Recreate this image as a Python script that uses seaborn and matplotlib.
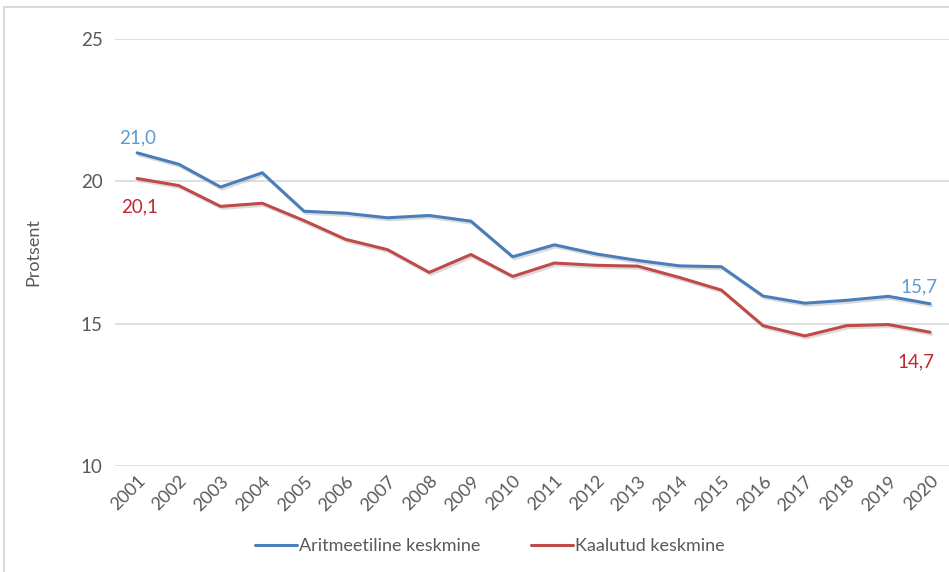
#!/usr/bin/env python3
import matplotlib
matplotlib.use('Agg')
import matplotlib.pyplot as plt
import matplotlib.patheffects as pe
from matplotlib.patches import Rectangle
import pandas as pd
import seaborn as sns

YEARS = list(range(2001, 2021))
ARITM = [21.0, 20.6, 19.8, 20.3, 18.95, 18.88, 18.72, 18.8, 18.6, 17.35,
         17.77, 17.45, 17.22, 17.03, 17.0, 15.97, 15.72, 15.82, 15.96, 15.7]
KAAL = [20.1, 19.85, 19.12, 19.23, 18.62, 17.96, 17.6, 16.8, 17.43, 16.66,
        17.13, 17.05, 17.02, 16.62, 16.18, 14.93, 14.57, 14.93, 14.97, 14.7]
SERIES = ['Aritmeetiline keskmine', 'Kaalutud keskmine']
Y_TICKS = [10, 15, 20, 25]

LINE_COLORS = ['#4A7EBB', '#BE4B48']
LABEL_COLORS = ['#5B9BD5', '#C0272D']
TEXT = '#595959'
GRID = '#D9D9D9'

sns.set_style('white')
plt.rcParams['font.family'] = ['Lato', 'DejaVu Sans']

df = pd.DataFrame({
    'year': YEARS * 2,
    'value': ARITM + KAAL,
    'series': [SERIES[0]] * len(YEARS) + [SERIES[1]] * len(YEARS),
})

fig = plt.figure(figsize=(9.49, 5.72), dpi=100)
fig.patches.append(Rectangle((4 / 949, -0.1), 1.2, (572 - 7) / 572 + 0.1,
                             transform=fig.transFigure, fill=False,
                             edgecolor=GRID, linewidth=1.5))
ax = fig.add_axes([115 / 949, (572 - 466) / 572, (949 - 115) / 949, (466 - 39) / 572])

sns.lineplot(data=df, x='year', y='value', hue='series', palette=LINE_COLORS,
             linewidth=2.2, ax=ax, legend=False)
for line in ax.get_lines():
    line.set_path_effects([pe.SimpleLineShadow(offset=(1.2, -1.5), shadow_color='#9a9a9a', alpha=0.35),
                           pe.Normal()])

ax.set_ylim(10, 25)
ax.set_xlim(2000.47, 2020.455)
ax.set_yticks(Y_TICKS)
ax.set_xticks(YEARS)
ax.set_xticklabels([str(y) for y in YEARS], rotation=45, ha='right',
                   rotation_mode='anchor', fontsize=13, color=TEXT)
ax.set_yticklabels([str(v) for v in Y_TICKS], fontsize=13.5, color=TEXT)
ax.tick_params(axis='both', length=0)
ax.tick_params(axis='y', pad=9)
ax.tick_params(axis='x', pad=5)
ax.grid(axis='y', color=GRID, linewidth=1.2)
ax.set_axisbelow(True)
for s in ax.spines.values():
    s.set_visible(False)
ax.set_xlabel('')
ax.set_ylabel('Protsent', fontsize=13, color=TEXT, labelpad=28)

def fmt(v):
    return f'{v:.1f}'.replace('.', ',')

ax.annotate(fmt(ARITM[0]), (YEARS[0], ARITM[0]), xytext=(0, 5), textcoords='offset points',
            ha='center', va='bottom', fontsize=13.5, color=LABEL_COLORS[0])
ax.annotate(fmt(KAAL[0]), (YEARS[0], KAAL[0]), xytext=(2, -14), textcoords='offset points',
            ha='center', va='top', fontsize=13.5, color=LABEL_COLORS[1])
ax.annotate(fmt(ARITM[-1]), (YEARS[-1], ARITM[-1]), xytext=(-8, 6), textcoords='offset points',
            ha='center', va='bottom', fontsize=13.5, color=LABEL_COLORS[0])
ax.annotate(fmt(KAAL[-1]), (YEARS[-1], KAAL[-1]), xytext=(-10, -15), textcoords='offset points',
            ha='center', va='top', fontsize=13.5, color=LABEL_COLORS[1])

handles = [plt.Line2D([], [], color=c, linewidth=2.2) for c in LINE_COLORS]
fig.legend(handles, SERIES, loc='center', bbox_to_anchor=(490 / 949, 1 - 546 / 572),
           ncol=2, frameon=False, fontsize=13, labelcolor=TEXT,
           handlelength=2.3, handletextpad=0.15, columnspacing=2.8)

fig.savefig('out.png', dpi=100)
